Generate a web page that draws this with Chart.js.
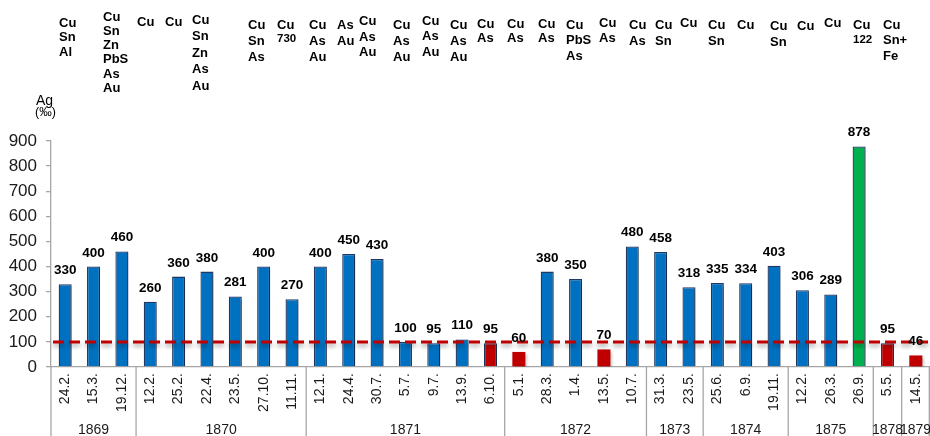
<!DOCTYPE html>
<html><head><meta charset="utf-8">
<script src="https://cdn.jsdelivr.net/npm/chart.js@4/dist/chart.umd.min.js"></script>
<style>html,body{margin:0;padding:0;background:#fff}#wrap{width:930px;height:436px;position:relative}</style>
</head><body><div id="wrap"><canvas id="c" width="930" height="436"></canvas></div>
<script>
// ---- data ----
const dates = ['24.2.','15.3.','19.12.','12.2.','25.2.','22.4.','23.5.','27.10.','11.11.','12.1.','24.4.','30.7.','5.7.','9.7.','13.9.','6.10.','5.1.','28.3.','1.4.','13.5.','10.7.','31.3.','23.5.','25.6.','6.9.','19.11.','12.2.','26.3.','26.9.','5.5.','14.5.'];
const silver = [330,400,460,260,360,380,281,400,270,400,450,430,100,95,110,95,60,380,350,70,480,458,318,335,334,403,306,289,878,95,46];
const barKind = ['b','b','b','b','b','b','b','b','b','b','b','b','b','b','b','rb','r','b','b','r','b','b','b','b','b','b','b','b','g','rb','r'];
const yearNames = ['1869','1870','1871','1872','1873','1874','1875','1878','1879'];
const yearCounts = [3,6,7,5,2,3,3,1,1];
const yTicks = [0,100,200,300,400,500,600,700,800,900];
const thresholdValue = 100;
const compositions = [
  ['Cu','Sn','Al'],['Cu','Sn','Zn','PbS','As','Au'],['Cu'],['Cu'],['Cu','Sn','Zn','As','Au'],
  ['Cu','Sn','As'],['Cu','730'],['Cu','As','Au'],['As','Au'],['Cu','As','Au'],['Cu','As','Au'],
  ['Cu','As','Au'],['Cu','As','Au'],['Cu','As'],['Cu','As'],['Cu','As'],['Cu','PbS','As'],
  ['Cu','As'],['Cu','As'],['Cu','Sn'],['Cu'],['Cu','Sn'],['Cu'],['Cu','Sn'],['Cu'],['Cu'],
  ['Cu','122'],['Cu','Sn+','Fe']
];
// ---- layout (pixel placement of the composition notes: left, first-line centre y, line step) ----
const compositionLayout = [
  [59,23,14.5],[103,17,14.3],[137,22,0],[165,22,0],[192,20,16.5],
  [248,25,16],[277,25,14],[309,25,16],[337,25,16.5],[359,21.5,15.5],[393,25,16],
  [422,21,15.5],[450,25,16],[477,24,14.5],[507,24,14.5],[538,24,14.5],[566,25,15.5],
  [599,23,15],[629,25,16.5],[655,25,16.5],[680,23,0],[708,25,16.5],[737,25,0],[770,26,16.5],[797,26,0],[824,23,0],
  [853,25,15],[883,25,15.8]
];
const kindFill = {b:'#0070C0', r:'#C00000', rb:'#C00000', g:'#00B050'};
const kindBorder = {b:'#1F3864', r:'#C00000', rb:'#1F3864', g:'#1F3864'};
const FONT = '"Liberation Sans", Arial, sans-serif';

const barShadow = {
  id:'barShadow',
  beforeDatasetsDraw(chart){const c=chart.ctx;c.save();c.shadowColor='rgba(0,0,0,0.28)';c.shadowBlur=3;c.shadowOffsetX=2;c.shadowOffsetY=2;},
  afterDatasetsDraw(chart){chart.ctx.restore();}
};
const overlay = {
  id:'overlay',
  afterDatasetsDraw(chart){
    const c=chart.ctx, a=chart.chartArea, ys=chart.scales.y;
    const ty=ys.getPixelForValue(thresholdValue);
    c.save();
    c.shadowColor='rgba(0,0,0,0.35)';c.shadowBlur=4;c.shadowOffsetY=3;
    c.strokeStyle='#C00000';c.lineWidth=3;c.setLineDash([11,5]);
    c.beginPath();c.moveTo(a.left+2,ty);c.lineTo(a.right,ty);c.stroke();
    c.restore();
    const meta=chart.getDatasetMeta(0);
    c.save();
    c.font='bold 13.5px '+FONT;c.fillStyle='#000';c.textAlign='center';c.textBaseline='bottom';
    meta.data.forEach((bar,i)=>{c.fillText(String(silver[i]),bar.x,bar.y-7);});
    c.restore();
  },
  afterDraw(chart){
    const c=chart.ctx, a=chart.chartArea, xs=chart.scales.x;
    c.save();
    c.strokeStyle='#a6a6a6';c.lineWidth=1.3;
    const H=chart.height;
    let start=0;
    const bounds=[a.left];
    yearCounts.forEach((n)=>{
      const end=start+n;
      const right = end>=dates.length ? a.right-0.7 : (xs.getPixelForValue(end-1)+xs.getPixelForValue(end))/2;
      bounds.push(right);
      start=end;
    });
    bounds.forEach(x=>{c.beginPath();c.moveTo(x,a.bottom);c.lineTo(x,H);c.stroke();});
    c.font='14px '+FONT;c.fillStyle='#1a1a1a';c.textAlign='center';c.textBaseline='middle';
    yearNames.forEach((y,gi)=>{c.fillText(y,(bounds[gi]+bounds[gi+1])/2,430);});
    compositions.forEach((lines,i)=>{
      const [x,y0,step]=compositionLayout[i];
      lines.forEach((t,k)=>{
        c.font=(/^\d+$/.test(t)?'bold 11.5px ':'bold 13px ')+FONT;
        c.textAlign='left';c.fillStyle='#000';
        c.fillText(t,x,y0+k*step);
      });
    });
    c.font='14px '+FONT;c.fillText('Ag',36,101);
    c.font='12.5px '+FONT;c.fillText('(‰)',35,113);
    c.restore();
  }
};

new Chart(document.getElementById('c'),{
  type:'bar',
  data:{labels:dates,datasets:[{
    data:silver,
    backgroundColor:barKind.map(k=>kindFill[k]),
    borderColor:barKind.map(k=>kindBorder[k]),
    borderWidth:barKind.map(k=>k==='r'?0:1.3),
    barPercentage:0.9,categoryPercentage:0.51
  }]},
  options:{
    responsive:false,animation:false,devicePixelRatio:1,
    layout:{padding:{top:141,left:0,right:0,bottom:0}},
    plugins:{legend:{display:false},tooltip:{enabled:false}},
    scales:{
      x:{
        grid:{display:false,drawTicks:false},
        border:{display:true,color:'#a6a6a6',width:1.3},
        ticks:{font:{family:FONT,size:14},color:'#1a1a1a',minRotation:90,maxRotation:90,autoSkip:false,padding:6},
        afterFit(s){s.height=69;s.paddingLeft=0;s.paddingRight=0;}
      },
      y:{
        min:0,max:900,
        grid:{drawOnChartArea:false,tickLength:5,color:'#a6a6a6',lineWidth:1.3},
        border:{color:'#a6a6a6',width:1.3},
        ticks:{font:{family:FONT,size:17},color:'#1a1a1a',padding:9},
        afterBuildTicks(s){s.ticks=yTicks.map(v=>({value:v}));},
        afterFit(s){s.width=51;}
      }
    }
  },
  plugins:[barShadow,overlay]
});
</script></body></html>
